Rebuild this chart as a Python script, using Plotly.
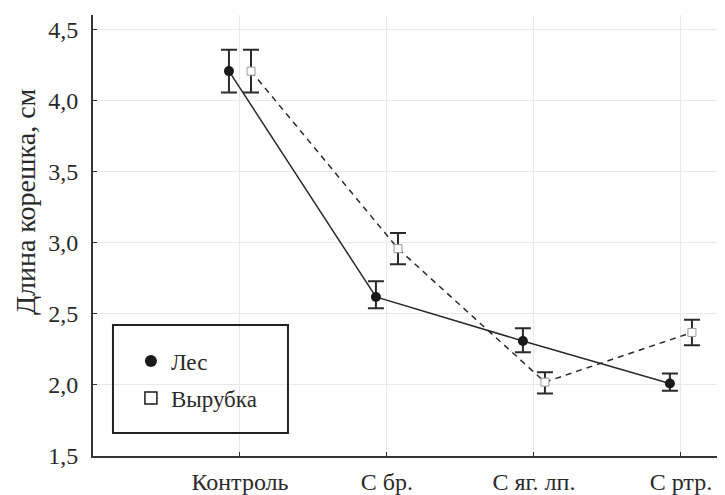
import plotly.graph_objects as go

categories = ["Контроль", "С бр.", "С яг. лп.", "С ртр."]
series_names = ["Лес", "Вырубка"]

les_values = [4.21, 2.62, 2.31, 2.01]
les_err_plus = [0.15, 0.11, 0.09, 0.07]
les_err_minus = [0.15, 0.08, 0.08, 0.05]

vyr_values = [4.21, 2.96, 2.02, 2.37]
vyr_err_plus = [0.15, 0.11, 0.07, 0.09]
vyr_err_minus = [0.15, 0.11, 0.08, 0.09]

y_tick_values = [1.5, 2.0, 2.5, 3.0, 3.5, 4.0, 4.5]
y_title = "Длина корешка, см"

FONT = "'Liberation Serif', 'Times New Roman', Times, serif"
INK = "#2a2a2a"
DODGE = 0.075

idx = list(range(len(categories)))
les_x = [i - DODGE for i in idx]
vyr_x = [i + DODGE for i in idx]

fig = go.Figure()

fig.add_trace(go.Scatter(
    x=les_x, y=les_values, mode="lines+markers", name=series_names[0],
    showlegend=False,
    line=dict(color=INK, width=1.5),
    marker=dict(symbol="circle", size=10, color="#1a1a1a"),
    error_y=dict(type="data", symmetric=False, array=les_err_plus,
                 arrayminus=les_err_minus, color=INK, thickness=2, width=8),
))
fig.add_trace(go.Scatter(
    x=vyr_x, y=vyr_values, mode="lines+markers", name=series_names[1],
    showlegend=False,
    line=dict(color=INK, width=1.5, dash="6px,5px"),
    marker=dict(symbol="square", size=8, color="white",
                line=dict(color="#9a9a9a", width=1)),
    error_y=dict(type="data", symmetric=False, array=vyr_err_plus,
                 arrayminus=vyr_err_minus, color=INK, thickness=2, width=8),
))

# legend entries (markers only)
fig.add_trace(go.Scatter(
    x=[None], y=[None], mode="markers", name=series_names[0], legendgroup="a",
    marker=dict(symbol="circle", size=12, color="#1a1a1a"),
))
fig.add_trace(go.Scatter(
    x=[None], y=[None], mode="markers", name=series_names[1], legendgroup="b",
    marker=dict(symbol="square", size=12, color="white",
                line=dict(color="#1a1a1a", width=1.5)),
))

fig.update_layout(
    width=717, height=487,
    margin=dict(l=85, r=0, t=7, b=39),
    paper_bgcolor="white", plot_bgcolor="white",
    separators=", ",
    font=dict(family=FONT, color=INK, size=24),
    showlegend=True,
    legend=dict(
        x=0.06, y=0.264, xanchor="left", yanchor="top",
        bgcolor="rgba(0,0,0,0)", borderwidth=0,
        font=dict(family=FONT, size=23, color=INK),
        tracegroupgap=4,
    ),
    xaxis=dict(
        range=[-1, 3.3], tickvals=idx, ticktext=categories,
        showgrid=True, gridcolor="#e9e9e9", gridwidth=1,
        zeroline=False, showline=True, linecolor="#333", linewidth=2,
        ticks="inside", ticklen=4, tickcolor="#333",
        ticklabelstandoff=3, automargin=False,
        tickfont=dict(family=FONT, size=24, color=INK),
    ),
    yaxis=dict(
        range=[1.5, 4.605], tickvals=y_tick_values, tickformat=".1f",
        showgrid=True, gridcolor="#e9e9e9", gridwidth=1,
        zeroline=False, showline=True, linecolor="#333", linewidth=2,
        ticks="inside", ticklen=4, tickcolor="#333",
        ticklabelstandoff=8, automargin=False,
        tickfont=dict(family=FONT, size=24, color=INK),
    ),
    shapes=[dict(
        type="rect", xref="paper", yref="paper",
        x0=0.0316, x1=0.3085, y0=0.052, y1=0.297,
        line=dict(color="#222", width=2), fillcolor="rgba(0,0,0,0)",
    )],
    annotations=[dict(
        text=y_title, textangle=-90, xref="paper", yref="paper",
        x=-0.1076, y=0.578, xanchor="center", yanchor="middle",
        showarrow=False, font=dict(family=FONT, size=28, color=INK),
    )],
)

fig.write_html("out.html")
